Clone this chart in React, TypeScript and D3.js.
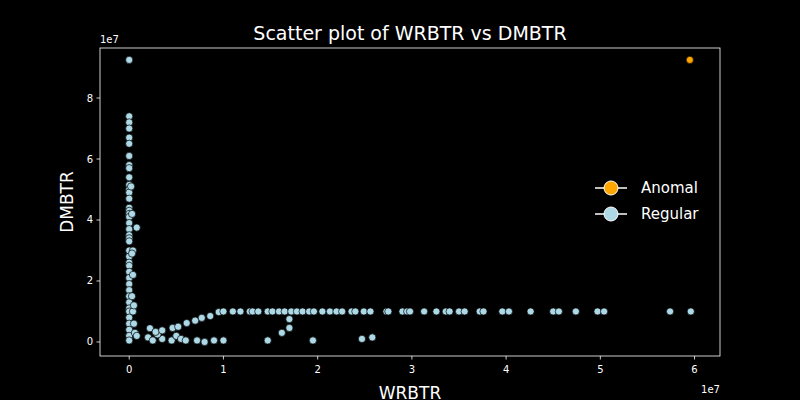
import React from "react";
import * as d3 from "d3";

// values in units of 1e7
const columnY = [9.25, 7.4, 7.2, 7.0, 6.7, 6.5, 6.1, 5.8, 5.7, 5.4, 5.15, 5.0, 4.9, 4.7, 4.4, 4.3, 4.2, 4.1, 3.9, 3.7, 3.5, 3.4, 3.3, 3.0, 2.8, 2.6, 2.5, 2.3, 2.1, 1.9, 1.7, 1.5, 1.3, 1.1, 1.0, 0.8, 0.6, 0.4, 0.2, 0.05];
const nearColumn: [number, number][] = [[0.08, 3.75], [0.04, 3.0], [0.03, 2.9], [0.04, 1.0], [0.05, 0.6], [0.06, 0.3], [0.03, 4.2], [0.03, 1.5], [0.02, 5.1], [0.04, 2.2], [0.05, 1.2], [0.08, 0.2]];
const lowCluster: [number, number][] = [
  [0.2, 0.15], [0.25, 0.05], [0.3, 0.3], [0.35, 0.1], [0.45, 0.05], [0.5, 0.2], [0.55, 0.1], [0.6, 0.05], [0.72, 0.05], [0.8, 0.0], [0.9, 0.05], [0.22, 0.45], [0.3, 0.25],
];
const rising: [number, number][] = [[0.28, 0.33], [0.35, 0.38], [0.46, 0.46], [0.52, 0.5], [0.61, 0.62], [0.7, 0.7], [0.77, 0.79], [0.86, 0.85], [0.95, 0.98]];
const flatX = [1.0, 1.1, 1.18, 1.28, 1.31, 1.37, 1.47, 1.52, 1.59, 1.65, 1.72, 1.78, 1.84, 1.91, 1.96, 2.05, 2.13, 2.2, 2.26, 2.36, 2.4, 2.49, 2.56, 2.73, 2.75, 2.9, 2.95, 2.98, 3.13, 3.26, 3.36, 3.4, 3.5, 3.56, 3.72, 3.76, 3.96, 4.03, 4.26, 4.5, 4.56, 4.74, 4.97, 5.04, 5.74, 5.96];
const lowScatter: [number, number][] = [[1.0, 0.05], [1.47, 0.05], [1.62, 0.3], [1.7, 0.75], [1.7, 0.46], [1.95, 0.05], [2.47, 0.1], [2.58, 0.15]];
const anomal: [number, number][] = [[5.95, 9.25]];

const xTicks = [0, 1, 2, 3, 4, 5, 6];
const yTicks = [0, 2, 4, 6, 8];

const regular: [number, number][] = [
  ...columnY.map((y) => [0, y] as [number, number]),
  ...nearColumn, ...lowCluster, ...rising,
  ...flatX.map((x) => [x, 1.0] as [number, number]),
  ...lowScatter,
];

export default function App() {
  const W = 800, H = 400;
  const left = 100, right = 720, top = 48, bottom = 356;
  const x = d3.scaleLinear().domain([-0.31, 6.27]).range([left, right]);
  const y = d3.scaleLinear().domain([-0.46, 9.64]).range([bottom, top]);
  const font = "DejaVu Sans, sans-serif";
  return (
    <svg width={W} height={H} style={{ position: "absolute", left: 0, top: 0, background: "#000" }} fontFamily={font}>
      <rect width={W} height={H} fill="#000" />
      {regular.map(([a, b], i) => (
        <circle key={i} cx={x(a)} cy={y(b)} r={3.6} fill="#add8e6" stroke="#000" strokeWidth={0.7} />
      ))}
      {anomal.map(([a, b], i) => (
        <circle key={"a" + i} cx={x(a)} cy={y(b)} r={3.6} fill="#ffa500" stroke="#000" strokeWidth={0.7} />
      ))}
      <rect x={left} y={top} width={right - left} height={bottom - top} fill="none" stroke="#fff" strokeWidth={0.8} />
      {xTicks.map((t) => (
        <g key={t} transform={`translate(${x(t)},${bottom})`}>
          <line y2={3.5} stroke="#fff" strokeWidth={0.8} />
          <text y={17} textAnchor="middle" fill="#fff" fontSize={10}>{t}</text>
        </g>
      ))}
      {yTicks.map((t) => (
        <g key={t} transform={`translate(${left},${y(t)})`}>
          <line x2={-3.5} stroke="#fff" strokeWidth={0.8} />
          <text x={-7} dy="0.35em" textAnchor="end" fill="#fff" fontSize={10}>{t}</text>
        </g>
      ))}
      <text x={left} y={top - 5} fill="#fff" fontSize={10}>1e7</text>
      <text x={right} y={bottom + 37} textAnchor="end" fill="#fff" fontSize={10}>1e7</text>
      <text x={(left + right) / 2} y={40} textAnchor="middle" fill="#fff" fontSize={19}>Scatter plot of WRBTR vs DMBTR</text>
      <text x={(left + right) / 2} y={399} textAnchor="middle" fill="#fff" fontSize={17}>WRBTR</text>
      <text transform={`translate(73,${(top + bottom) / 2}) rotate(-90)`} textAnchor="middle" fill="#fff" fontSize={17}>DMBTR</text>
      {[["Anomal", "#ffa500"], ["Regular", "#add8e6"]].map(([l, c], i) => (
        <g key={l} transform={`translate(595,${188 + i * 26})`}>
          <line x2={32} stroke="#fff" strokeWidth={1.5} />
          <circle cx={16} r={7} fill={c} stroke="#fff" strokeWidth={1} />
          <text x={46} dy="0.35em" fill="#fff" fontSize={15}>{l}</text>
        </g>
      ))}
    </svg>
  );
}
